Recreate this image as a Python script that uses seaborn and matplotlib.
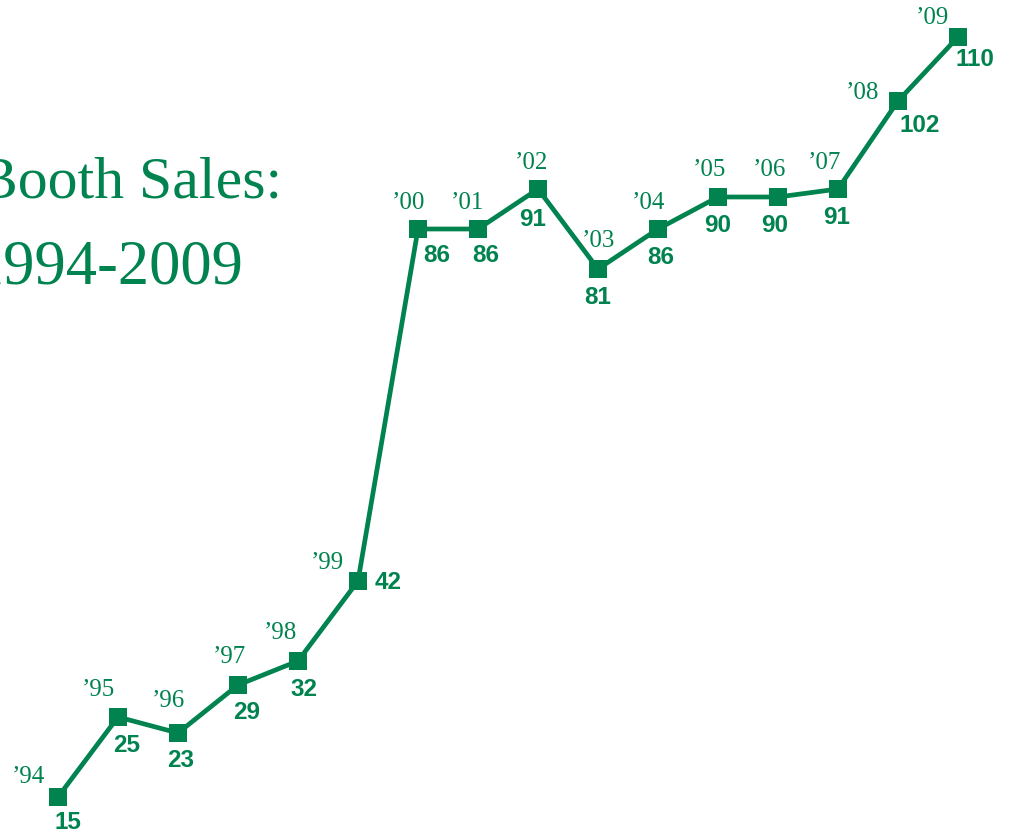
import pandas as pd
import matplotlib
matplotlib.use("Agg")
import matplotlib.pyplot as plt
import seaborn as sns

# Booth sales per year
years = list(range(1994, 2010))
sales = [15, 25, 23, 29, 32, 42, 86, 86, 91, 81, 86, 90, 90, 91, 102, 110]
year_labels = ["\u2019" + str(y)[2:] for y in years]

# label offsets in pixels (dx, dy) from each marker
year_offsets = [(-30, 20), (-20, 27), (-10, 32), (-9, 28), (-18, 28), (-31, 18),
                (-10, 26), (-11, 26), (-7, 26), (0, 28), (-10, 26), (-9, 27),
                (-9, 27), (-14, 26), (-36, 8), (-26, 19)]
value_offsets = [(10, -25), (9, -28), (3, -27), (9, -27), (6, -28), (30, -1),
                 (19, -27), (8, -27), (-5, -30), (0, -28), (3, -29), (0, -28),
                 (-3, -28), (-1, -28), (22, -25), (17, -23)]

green = "#00834F"

df = pd.DataFrame({"year": years, "sales": sales})

sns.set_theme(style="white")
fig = plt.figure(figsize=(10.14, 8.3), dpi=100)
ax = fig.add_axes([0, 0, 1, 1])

sns.lineplot(data=df, x="year", y="sales", ax=ax, color=green, linewidth=3.4,
             marker="s", markersize=13, markeredgewidth=0, markerfacecolor=green)

for i in range(len(years)):
    ax.annotate(year_labels[i], (years[i], sales[i]), xytext=year_offsets[i],
                textcoords="offset pixels", ha="center", va="center",
                fontsize=18, family="Liberation Serif", color=green)
    ax.annotate(str(sales[i]), (years[i], sales[i]), xytext=value_offsets[i],
                textcoords="offset pixels", ha="center", va="center",
                fontsize=17.5, fontweight="bold", family="Liberation Sans", color=green)

ax.set_xlim(1994 - 58 / 60, 1994 + (1014 - 58) / 60)
ax.set_ylim(15 - 33 / 8, 15 + 797 / 8)
ax.axis("off")

fig.text(282 / 1014, 1 - 198 / 830, "Booth Sales:", ha="right", va="baseline",
         fontsize=43, family="Liberation Serif", color=green)
fig.text(243 / 1014, 1 - 284 / 830, "1994-2009", ha="right", va="baseline",
         fontsize=45, family="Liberation Serif", color=green)

fig.savefig("out.png", dpi=100)
